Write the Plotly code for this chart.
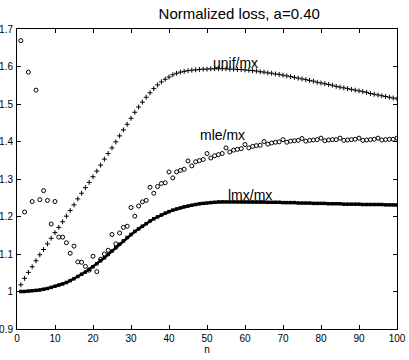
import plotly.graph_objects as go

n = list(range(1, 101))

unif_mx = [
    1.018, 1.035, 1.051, 1.066, 1.082, 1.098, 1.112, 1.127, 1.142, 1.157,
    1.171, 1.186, 1.201, 1.216, 1.231, 1.247, 1.262, 1.277, 1.291, 1.306,
    1.321, 1.337, 1.353, 1.368, 1.383, 1.399, 1.415, 1.431, 1.446, 1.462,
    1.478, 1.492, 1.505, 1.518, 1.530, 1.541, 1.551, 1.559, 1.566, 1.572,
    1.578, 1.582, 1.585, 1.587, 1.589, 1.590, 1.591, 1.592, 1.593, 1.593,
    1.594, 1.594, 1.594, 1.594, 1.594, 1.593, 1.593, 1.592, 1.592, 1.591,
    1.590, 1.589, 1.588, 1.586, 1.585, 1.583, 1.582, 1.580, 1.579, 1.577,
    1.575, 1.573, 1.571, 1.569, 1.567, 1.565, 1.563, 1.561, 1.558, 1.556,
    1.554, 1.552, 1.550, 1.547, 1.545, 1.543, 1.541, 1.539, 1.537, 1.535,
    1.533, 1.531, 1.528, 1.526, 1.524, 1.522, 1.520, 1.518, 1.516, 1.514,
]

mle_mx = [
    1.669, 1.212, 1.585, 1.240, 1.537, 1.245, 1.269, 1.243, 1.180, 1.240,
    1.145, 1.145, 1.130, 1.102, 1.121, 1.079, 1.078, 1.067, 1.057, 1.094,
    1.053, 1.086, 1.100, 1.110, 1.152, 1.127, 1.156, 1.171, 1.174, 1.224,
    1.201, 1.228, 1.239, 1.243, 1.278, 1.262, 1.280, 1.288, 1.290, 1.319,
    1.303, 1.319, 1.323, 1.326, 1.348, 1.335, 1.346, 1.349, 1.352, 1.368,
    1.356, 1.362, 1.365, 1.368, 1.383, 1.372, 1.377, 1.379, 1.381, 1.392,
    1.383, 1.387, 1.389, 1.390, 1.400, 1.393, 1.396, 1.398, 1.399, 1.405,
    1.398, 1.401, 1.402, 1.403, 1.408, 1.401, 1.403, 1.404, 1.405, 1.409,
    1.402, 1.404, 1.405, 1.405, 1.409, 1.403, 1.404, 1.405, 1.406, 1.409,
    1.403, 1.404, 1.405, 1.406, 1.409, 1.404, 1.405, 1.406, 1.406, 1.409,
]

lmx_mx = [
    1.000, 1.000, 1.001, 1.002, 1.003, 1.004, 1.006, 1.008, 1.011, 1.014,
    1.017, 1.020, 1.024, 1.029, 1.034, 1.040, 1.046, 1.052, 1.059, 1.066,
    1.074, 1.082, 1.090, 1.099, 1.108, 1.117, 1.126, 1.135, 1.144, 1.152,
    1.160, 1.167, 1.174, 1.181, 1.188, 1.194, 1.199, 1.204, 1.209, 1.213,
    1.217, 1.220, 1.223, 1.226, 1.228, 1.230, 1.232, 1.234, 1.235, 1.236,
    1.237, 1.238, 1.239, 1.239, 1.239, 1.239, 1.239, 1.239, 1.239, 1.239,
    1.239, 1.239, 1.239, 1.239, 1.239, 1.238, 1.238, 1.238, 1.238, 1.237,
    1.237, 1.237, 1.237, 1.236, 1.236, 1.236, 1.236, 1.235, 1.235, 1.235,
    1.235, 1.234, 1.234, 1.234, 1.234, 1.233, 1.233, 1.233, 1.233, 1.233,
    1.232, 1.232, 1.232, 1.232, 1.232, 1.232, 1.231, 1.231, 1.231, 1.231,
]

x_ticks = [0, 10, 20, 30, 40, 50, 60, 70, 80, 90, 100]
y_ticks = [0.9, 1.0, 1.1, 1.2, 1.3, 1.4, 1.5, 1.6, 1.7]
y_tick_text = ["0.9", "1", "1.1", "1.2", "1.3", "1.4", "1.5", "1.6", "1.7"]

title_text = "Normalized loss, a=0.40"
labels = ["unif/mx", "mle/mx", "lmx/mx"]

fig = go.Figure()
fig.add_trace(go.Scatter(
    x=n, y=unif_mx, mode="markers", name=labels[0],
    marker=dict(symbol="cross-thin", size=3.5, line=dict(color="black", width=1), color="black"),
))
fig.add_trace(go.Scatter(
    x=n, y=mle_mx, mode="markers", name=labels[1],
    marker=dict(symbol="circle-open", size=4, line=dict(color="black", width=1), color="black"),
))
fig.add_trace(go.Scatter(
    x=n, y=lmx_mx, mode="lines+markers", name=labels[2],
    line=dict(color="black", width=2.5),
    marker=dict(symbol="square", size=3.5, color="black"),
))

font_family = "Liberation Sans, Arial, sans-serif"

fig.add_annotation(x=57.5, y=1.609, text=labels[0], showarrow=False,
                   font=dict(family=font_family, size=14, color="black"))
fig.add_annotation(x=54.2, y=1.417, text=labels[1], showarrow=False,
                   font=dict(family=font_family, size=14, color="black"))
fig.add_annotation(x=61.3, y=1.258, text=labels[2], showarrow=False,
                   font=dict(family=font_family, size=14, color="black"))

axis_common = dict(
    showline=True, linecolor="black", linewidth=1, mirror="ticks",
    ticks="inside", ticklen=4, tickcolor="black", tickwidth=1,
    showgrid=False, zeroline=False, automargin=False,
    tickfont=dict(family=font_family, size=10, color="black"),
)

fig.update_layout(
    width=409, height=360,
    margin=dict(l=17, r=12, t=29, b=31),
    paper_bgcolor="white", plot_bgcolor="white",
    showlegend=False,
    title=dict(text=title_text, x=0.585, xanchor="center", y=0.963, yanchor="middle",
               font=dict(family=font_family, size=15, color="black")),
    xaxis=dict(range=[0, 100], tickvals=x_ticks, ticktext=[str(v) for v in x_ticks],
               title=dict(text="n", standoff=2, font=dict(family=font_family, size=10, color="black")),
               **axis_common),
    yaxis=dict(range=[0.9, 1.7], tickvals=y_ticks, ticktext=y_tick_text, ticklabelstandoff=1,
               **axis_common),
)

fig.write_html("out.html")
